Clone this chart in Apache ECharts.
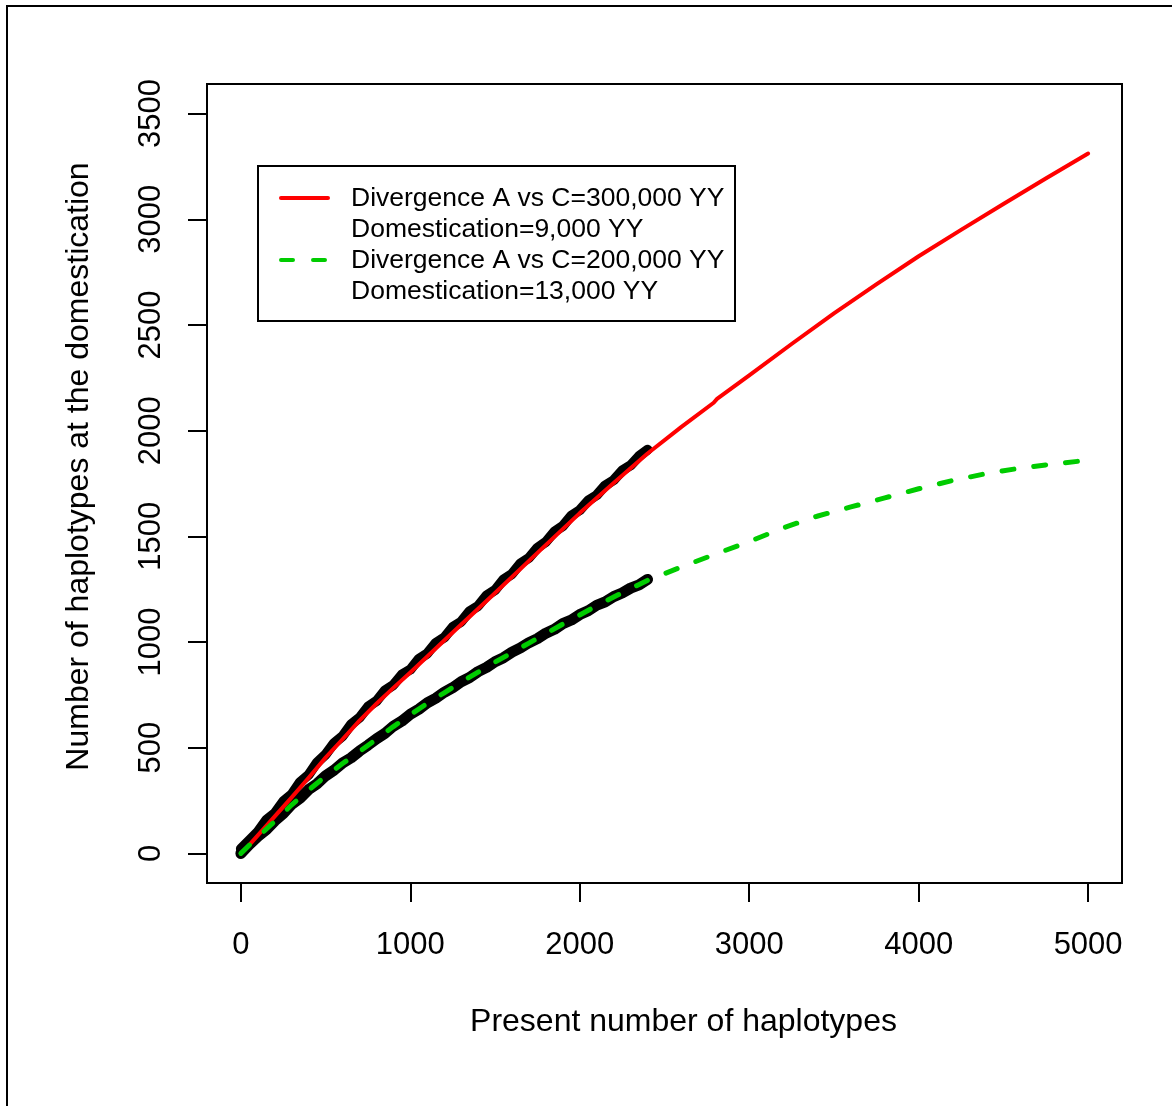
<!DOCTYPE html>
<html>
<head>
<meta charset="utf-8">
<script src="https://cdn.jsdelivr.net/npm/echarts@6/dist/echarts.min.js"></script>
<style>
html,body{margin:0;padding:0;background:#fff;}
#chart{width:1172px;height:1106px;}
</style>
</head>
<body>
<div id="chart"></div>
<script>
// ---- data ----
const xTicks = [0, 1000, 2000, 3000, 4000, 5000];
const yTicks = [0, 500, 1000, 1500, 2000, 2500, 3000, 3500];
const xTitle = 'Present number of haplotypes';
const yTitle = 'Number of haplotypes at the domestication';
const legendLines = [
  ['Divergence A vs C=300,000 YY', 'Domestication=9,000 YY'],
  ['Divergence A vs C=200,000 YY', 'Domestication=13,000 YY']
];

// theoretical curve, divergence 300,000 YY (red, solid)
const curveA = [
  [50,40],[100,85],[200,175],[300,265],[400,358],[500,453],[600,540],[700,628],[800,708],[900,783],
  [1000,856],[1250,1045],[1500,1232],[1750,1422],[2000,1610],[2200,1752],[2400,1892],[2600,2018],
  [2790,2132],[2810,2150],[3000,2262],[3250,2410],[3500,2555],[3750,2692],[4000,2825],[4250,2950],
  [4500,3072],[4750,3193],[5000,3311]
];
// theoretical curve, divergence 200,000 YY (green, dashed)
const curveB = [
  [0,0],[100,78],[200,152],[300,230],[400,300],[500,365],[600,425],[700,482],[800,540],[900,600],
  [1000,656],[1100,710],[1200,760],[1300,810],[1400,858],[1500,905],[1600,950],[1700,995],[1800,1040],
  [1900,1085],[2000,1128],[2100,1172],[2200,1213],[2300,1253],[2400,1292],[2600,1355],[2800,1416],
  [3000,1475],[3200,1540],[3400,1595],[3600,1639],[3800,1682],[4000,1725],[4200,1764],[4400,1797],
  [4600,1823],[4800,1843],[5000,1860]
];
// simulated values (black band) for the two scenarios
const simA = [
  [0,22],[50,62],[100,103],[150,158],[200,190],[250,246],[300,280],[350,338],[400,372],[450,431],
  [500,468],[550,522],[600,555],[650,610],[700,642],[750,694],[800,721],[850,771],[900,797],[950,846],
  [1000,870],[1050,920],[1100,946],[1150,996],[1200,1021],[1250,1071],[1300,1096],[1350,1146],[1400,1171],
  [1450,1220],[1500,1246],[1550,1296],[1600,1322],[1650,1372],[1700,1398],[1750,1446],[1800,1474],
  [1850,1522],[1900,1549],[1950,1598],[2000,1624],[2050,1670],[2100,1695],[2150,1741],[2200,1766],
  [2250,1811],[2300,1836],[2350,1880],[2400,1910]
];
const simB = [
  [0,0],[50,42],[100,80],[150,112],[200,154],[250,188],[300,232],[350,262],[400,302],[450,330],
  [500,367],[550,394],[600,428],[650,452],[700,484],[750,512],[800,542],[850,568],[900,602],[950,626],
  [1000,658],[1050,682],[1100,712],[1150,734],[1200,762],[1250,784],[1300,812],[1350,832],[1400,860],
  [1450,880],[1500,907],[1550,926],[1600,952],[1650,972],[1700,997],[1750,1016],[1800,1042],[1850,1060],
  [1900,1087],[1950,1104],[2000,1130],[2050,1148],[2100,1174],[2150,1190],[2200,1215],[2250,1232],
  [2300,1255],[2350,1270],[2400,1296]
];

const FONT = '"Liberation Sans", Arial, Helvetica, sans-serif';
const chart = echarts.init(document.getElementById('chart'), null, {renderer: 'canvas'});

const legendGraphic = [];
legendGraphic.push({type:'rect', z:100, shape:{x:258, y:166, width:477, height:155},
  style:{fill:'#fff', stroke:'#000', lineWidth:2}});
legendGraphic.push({type:'line', z:101, shape:{x1:281, y1:198, x2:328, y2:198},
  style:{stroke:'#ff0000', lineWidth:4, lineCap:'round'}});
legendGraphic.push({type:'line', z:101, shape:{x1:281, y1:260, x2:328, y2:260},
  style:{stroke:'#00cc00', lineWidth:4, lineCap:'round', lineDash:[12,20]}});
legendLines.forEach((pair, i) => {
  pair.forEach((t, j) => {
    legendGraphic.push({type:'text', z:101, x:351, y:199 + (i*2 + j)*31,
      style:{text:t, font:'26.5px ' + FONT, fill:'#000', textVerticalAlign:'middle', textAlign:'left'}});
  });
});

const plain = v => String(v);

const option = {
  animation: false,
  backgroundColor: '#ffffff',
  grid: {left:207, top:84, right:50, bottom:223, show:true, borderColor:'#000', borderWidth:2, backgroundColor:'#fff'},
  xAxis: {
    type:'value', min:-200, max:5200,
    axisLine:{show:false, onZero:false},
    splitLine:{show:false},
    axisTick:{show:true, length:19, customValues:xTicks, lineStyle:{color:'#000', width:2}},
    axisLabel:{show:true, customValues:xTicks, formatter:plain, margin:47, fontSize:31, fontFamily:FONT, color:'#000'},
    name:xTitle, nameLocation:'middle', nameGap:123,
    nameTextStyle:{fontSize:32, fontFamily:FONT, color:'#000', padding:[0,0,0,38]}
  },
  yAxis: {
    type:'value', min:-140, max:3640,
    axisLine:{show:false, onZero:false},
    splitLine:{show:false},
    axisTick:{show:true, length:19, customValues:yTicks, lineStyle:{color:'#000', width:2}},
    axisLabel:{show:true, customValues:yTicks, formatter:plain, rotate:90, margin:40, fontSize:31, fontFamily:FONT, color:'#000'},
    name:yTitle, nameLocation:'middle', nameGap:112, nameRotate:90,
    nameTextStyle:{fontSize:32, fontFamily:FONT, color:'#000', padding:[0,0,0,34]}
  },
  graphic: [
    {type:'polyline', z:50, shape:{points:[[7,1106],[7,6],[1172,6]]}, style:{stroke:'#000', lineWidth:2, fill:null}}
  ].concat(legendGraphic),
  series: [
    {name:'Simulation A', type:'line', data:simA, showSymbol:false, silent:true,
      lineStyle:{color:'#000', width:10, cap:'round', join:'round'}, z:2},
    {name:'Simulation B', type:'line', data:simB, showSymbol:false, silent:true,
      lineStyle:{color:'#000', width:11, cap:'round', join:'round'}, z:2},
    {name:legendLines[0].join(' '), type:'line', data:curveA, showSymbol:false, smooth:false,
      lineStyle:{color:'#ff0000', width:4, cap:'round', join:'round'}, z:3},
    {name:legendLines[1].join(' '), type:'line', data:curveB, showSymbol:false, smooth:false,
      lineStyle:{color:'#00cc00', width:5, cap:'round', join:'round', type:[12,20]}, z:4}
  ]
};
chart.setOption(option);
</script>
</body>
</html>
